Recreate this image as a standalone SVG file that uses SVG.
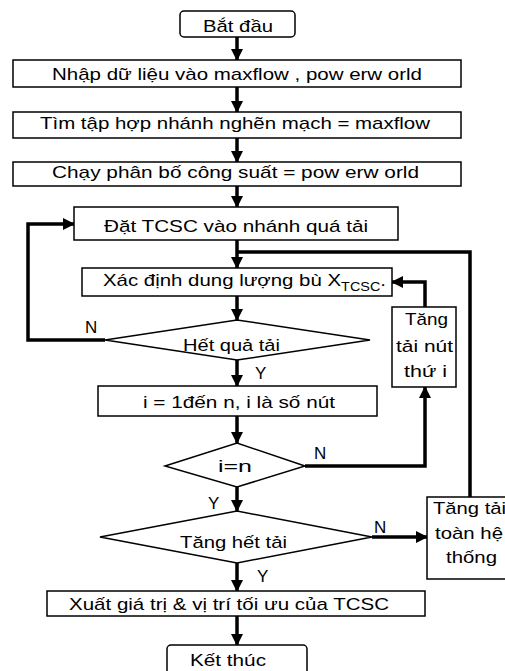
<svg xmlns="http://www.w3.org/2000/svg" width="505" height="671" viewBox="0 0 505 671">
<style>
.box{fill:#fff;stroke:#000;stroke-width:1.5}
.t{font-family:"Liberation Sans",Arial,sans-serif;font-size:17px;fill:#000}
.c{text-anchor:middle}
.ln{fill:none;stroke:#000;stroke-width:3.5}
</style>
<defs>
<marker id="ah" markerUnits="userSpaceOnUse" markerWidth="12" markerHeight="12" viewBox="0 0 12 12" refX="11" refY="6" orient="auto">
<path d="M0,0 L12,6 L0,12 Z" fill="#000"/>
</marker>
</defs>
<rect width="505" height="671" fill="#fff"/>
<g id="connectors">
<path class="ln" d="M237,37 V60" marker-end="url(#ah)"/>
<path class="ln" d="M237,87 V112" marker-end="url(#ah)"/>
<path class="ln" d="M237,138 V162" marker-end="url(#ah)"/>
<path class="ln" d="M237,186 V207" marker-end="url(#ah)"/>
<path class="ln" d="M237,240 V268" marker-end="url(#ah)"/>
<path class="ln" d="M237,252 H470 V497"/>
<path class="ln" d="M237,296 V320" marker-end="url(#ah)"/>
<path class="ln" d="M105,340 H28 V224 H74" marker-end="url(#ah)"/>
<path class="ln" d="M237,360 V386" marker-end="url(#ah)"/>
<path class="ln" d="M237,416 V443" marker-end="url(#ah)"/>
<path class="ln" d="M305,466 H425 V387" marker-end="url(#ah)"/>
<path class="ln" d="M425,307 V282 H392" marker-end="url(#ah)"/>
<path class="ln" d="M237,487 V511" marker-end="url(#ah)"/>
<path class="ln" d="M372,537 H427" marker-end="url(#ah)"/>
<path class="ln" d="M237,563 V591" marker-end="url(#ah)"/>
<path class="ln" d="M237,616 V645" marker-end="url(#ah)"/>
</g>
<g id="start">
<rect class="box" x="180" y="11" width="115" height="26" rx="4"/>
<text class="t" x="203" y="32" textLength="70" lengthAdjust="spacingAndGlyphs">Bắt đầu</text>
</g>
<g id="input">
<rect class="box" x="13" y="60" width="448" height="27"/>
<text class="t" x="52" y="80" textLength="370" lengthAdjust="spacingAndGlyphs">Nhập dữ liệu vào maxflow , pow erw orld</text>
</g>
<g id="find">
<rect class="box" x="13" y="112" width="448" height="26"/>
<text class="t" x="40" y="129" textLength="390" lengthAdjust="spacingAndGlyphs">Tìm tập hợp nhánh nghẽn mạch = maxflow</text>
</g>
<g id="run">
<rect class="box" x="13" y="162" width="448" height="24"/>
<text class="t" x="52" y="178" textLength="367" lengthAdjust="spacingAndGlyphs">Chạy phân bố công suất = pow erw orld</text>
</g>
<g id="place">
<rect class="box" x="74" y="207" width="324" height="33"/>
<text class="t" x="104" y="232" textLength="264" lengthAdjust="spacingAndGlyphs">Đặt TCSC vào nhánh quá tải</text>
</g>
<g id="determine">
<rect class="box" x="82" y="268" width="310" height="28"/>
<text class="t" x="103" y="286" textLength="283" lengthAdjust="spacingAndGlyphs">Xác định dung lượng bù X<tspan font-size="12" dy="5">TCSC</tspan><tspan dy="-5">.</tspan></text>
</g>
<g id="noOverload">
<polygon class="box" points="105,340 237,320 370,340 237,360"/>
<text class="t" x="183" y="351" textLength="97" lengthAdjust="spacingAndGlyphs">Hết quả tải</text>
</g>
<g id="loopNodes">
<rect class="box" x="98" y="386" width="279" height="30"/>
<text class="t" x="143" y="408" textLength="192" lengthAdjust="spacingAndGlyphs">i = 1đến n, i là số nút</text>
</g>
<g id="iEqN">
<polygon class="box" points="165,466 237,443 305,466 237,487"/>
<text class="t" x="218" y="472" textLength="34" lengthAdjust="spacingAndGlyphs">i=n</text>
</g>
<g id="incNode">
<rect class="box" x="392" y="307" width="64" height="80"/>
<text class="t" x="405" y="325" textLength="43" lengthAdjust="spacingAndGlyphs">Tăng</text>
<text class="t" x="396" y="352" textLength="57" lengthAdjust="spacingAndGlyphs">tải nút</text>
<text class="t" x="404" y="377" textLength="43" lengthAdjust="spacingAndGlyphs">thứ i</text>
</g>
<g id="allLoad">
<polygon class="box" points="100,537 237,511 372,537 237,563"/>
<text class="t" x="180" y="548" textLength="107" lengthAdjust="spacingAndGlyphs">Tăng hết tải</text>
</g>
<g id="incSystem">
<rect class="box" x="427" y="497" width="100" height="82"/>
<text class="t" x="433" y="514" textLength="73" lengthAdjust="spacingAndGlyphs">Tăng tải</text>
<text class="t" x="435" y="539" textLength="68" lengthAdjust="spacingAndGlyphs">toàn hệ</text>
<text class="t" x="446" y="563" textLength="51" lengthAdjust="spacingAndGlyphs">thống</text>
</g>
<g id="output">
<rect class="box" x="47" y="591" width="378" height="25"/>
<text class="t" x="69" y="610" textLength="320" lengthAdjust="spacingAndGlyphs">Xuất giá trị &amp; vị trí tối ưu của TCSC</text>
</g>
<g id="end">
<rect class="box" x="167" y="645" width="140" height="35" rx="4"/>
<text class="t" x="190" y="666" textLength="76" lengthAdjust="spacingAndGlyphs">Kết thúc</text>
</g>
<g id="labels">
<text class="t" x="85" y="333">N</text>
<text class="t" x="255" y="379">Y</text>
<text class="t" x="314" y="459">N</text>
<text class="t" x="208" y="509">Y</text>
<text class="t" x="374" y="533">N</text>
<text class="t" x="257" y="582">Y</text>
</g>
</svg>
